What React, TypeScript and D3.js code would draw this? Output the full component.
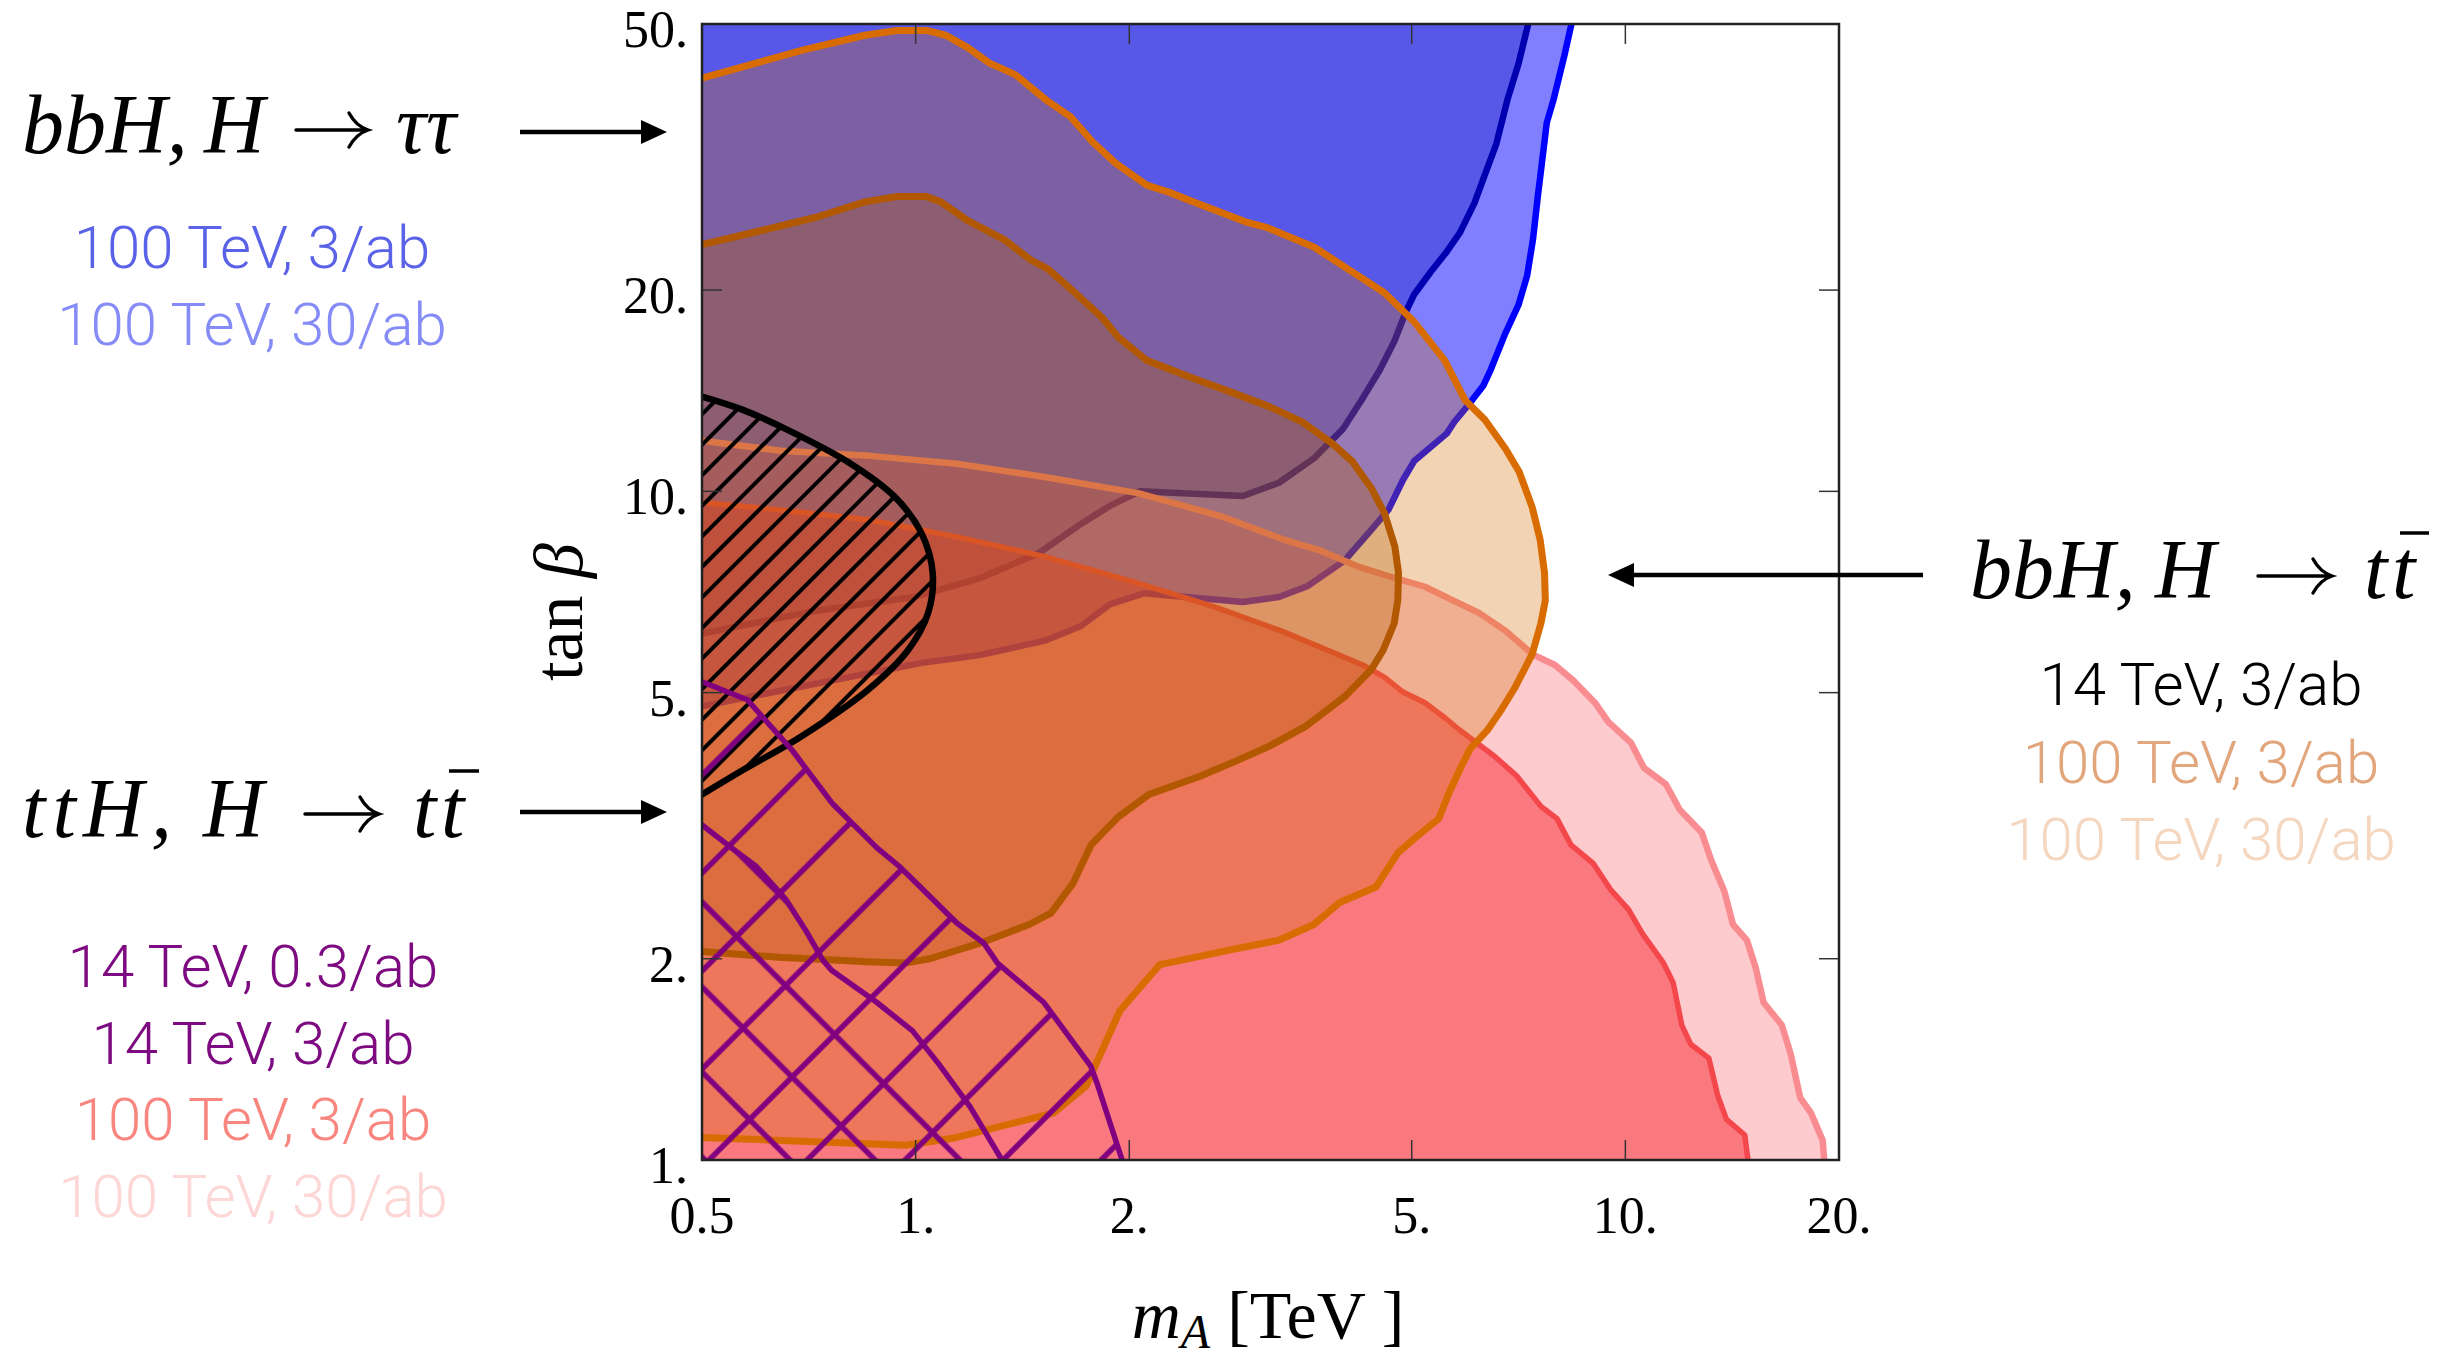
import React from "react";
import * as d3 from "d3";

type P = [number, number]; // [m_A in TeV, tan beta]

const xTickValues = [0.5, 1, 2, 5, 10, 20];
const xTickLabels = ["0.5", "1.", "2.", "5.", "10.", "20."];
const yTickValues = [1, 2, 5, 10, 20, 50];
const yTickLabels = ["1.", "2.", "5.", "10.", "20.", "50."];

// bbH, H -> tau tau : 100 TeV 30/ab (light blue), boundary from top edge to left edge
const tauTau100TeV30ab: P[] = [
  [8.45, 53], [8.42, 50.7], [8.2, 44.7], [7.92, 38.5], [7.75, 35.6], [7.62, 30.7], [7.53, 27.7],
  [7.41, 23.8], [7.27, 21.0], [7.07, 19.0], [6.77, 17.2], [6.46, 15.2], [6.31, 14.4], [6.02, 13.5],
  [5.74, 12.7], [5.6, 12.2], [5.04, 11.1], [4.86, 10.4], [4.64, 9.4], [4.37, 8.72], [4.02, 7.88],
  [3.57, 7.22], [3.25, 6.95], [2.89, 6.83], [2.1, 7.04], [1.88, 6.78], [1.71, 6.29], [1.52, 5.98],
  [1.23, 5.69], [1.02, 5.54], [0.803, 5.27], [0.5, 4.77],
];
// bbH, H -> tau tau : 100 TeV 3/ab
const tauTau100TeV3ab: P[] = [
  [7.35, 53], [7.32, 50.7], [7.07, 43.6], [6.82, 38.5], [6.58, 33.1], [6.35, 29.9], [6.13, 27.0],
  [5.85, 24.4], [5.58, 22.7], [5.32, 21.3], [5.04, 19.7], [4.9, 18.5], [4.73, 16.8], [4.51, 15.2],
  [4.25, 13.7], [4.0, 12.4], [3.64, 11.2], [3.25, 10.3], [2.89, 9.84], [2.07, 10.0], [1.88, 9.52],
  [1.71, 8.94], [1.49, 8.08], [1.23, 7.41], [0.994, 6.95], [0.713, 6.61], [0.5, 6.13],
];
// ttH, H -> tt : 100 TeV 30/ab (light pink)
const ttH100TeV30ab: P[] = [
  [0.5, 11.9], [0.646, 11.5], [0.862, 11.3], [1.143, 11.0], [1.526, 10.5], [2.057, 9.94], [2.701, 9.17],
  [3.311, 8.46], [3.7, 8.17], [4.217, 7.71], [4.691, 7.44], [5.219, 7.2], [5.697, 6.88], [6.218, 6.58],
  [6.788, 6.18], [7.391, 5.71], [7.957, 5.5], [8.44, 5.22], [9.06, 4.83], [9.46, 4.52], [10.18, 4.21],
  [10.62, 3.86], [11.4, 3.65], [11.93, 3.34], [12.81, 3.09], [13.21, 2.81], [13.79, 2.52], [14.18, 2.25],
  [14.84, 2.13], [15.26, 1.94], [15.66, 1.72], [16.62, 1.59], [17.1, 1.44], [17.63, 1.24], [18.27, 1.175],
  [18.97, 1.07], [19.11, 0.97],
];
// ttH, H -> tt : 100 TeV 3/ab (red)
const ttH100TeV3ab: P[] = [
  [0.5, 9.62], [0.646, 9.38], [0.862, 9.06], [1.143, 8.55], [1.526, 7.98], [2.057, 7.29], [2.657, 6.7],
  [3.28, 6.18], [3.8, 5.79], [4.267, 5.5], [4.58, 5.27], [4.861, 5.01], [5.219, 4.83], [5.59, 4.57],
  [5.834, 4.4], [6.552, 4.01], [7.034, 3.75], [7.604, 3.38], [8.01, 3.24], [8.38, 2.96], [9.0, 2.78],
  [9.55, 2.53], [10.1, 2.37], [10.57, 2.18], [11.32, 1.97], [11.68, 1.84], [12.01, 1.59], [12.36, 1.49],
  [13.11, 1.42], [13.49, 1.25], [13.88, 1.15], [14.73, 1.09], [14.94, 0.97],
];
// bbH, H -> tt : 100 TeV 30/ab (light orange)
const bbTT100TeV30ab: P[] = [
  [0.5, 41.5], [0.582, 43.4], [0.693, 45.7], [0.848, 48.1], [0.941, 48.9], [1.035, 48.9], [1.103, 48.1],
  [1.184, 46.1], [1.271, 43.7], [1.382, 42.0], [1.483, 39.5], [1.537, 38.3], [1.654, 36.3], [1.776, 33.3],
  [1.911, 31.0], [2.116, 28.7], [2.278, 28.0], [2.486, 27.0], [2.701, 26.1], [2.914, 25.3], [3.129, 24.8],
  [3.64, 23.2], [4.297, 20.7], [4.58, 19.8], [5.048, 17.9], [5.564, 15.7], [5.943, 13.7], [6.339, 12.8],
  [6.771, 11.6], [7.085, 10.7], [7.391, 9.47], [7.585, 8.46], [7.694, 7.55], [7.713, 6.87], [7.604, 6.35],
  [7.391, 5.71], [6.984, 5.08], [6.676, 4.7], [6.398, 4.4], [6.043, 4.12], [5.861, 3.86], [5.63, 3.52],
  [5.459, 3.24], [5.073, 3.04], [4.78, 2.88], [4.453, 2.56], [3.964, 2.43], [3.64, 2.25], [3.241, 2.13],
  [2.765, 2.06], [2.533, 2.02], [2.209, 1.96], [1.939, 1.67], [1.739, 1.29], [1.562, 1.175], [1.135, 1.079],
  [0.968, 1.052], [0.5, 1.081],
];
// bbH, H -> tt : 100 TeV 3/ab (orange)
const bbTT100TeV3ab: P[] = [
  [0.5, 23.4], [0.582, 24.3], [0.724, 25.7], [0.848, 27.1], [0.941, 27.6], [1.035, 27.6], [1.085, 27.1],
  [1.184, 25.4], [1.333, 23.8], [1.452, 22.2], [1.537, 21.5], [1.678, 19.8], [1.831, 18.2], [1.93, 17.0],
  [2.116, 15.7], [2.444, 14.8], [2.818, 14.0], [3.144, 13.4], [3.504, 12.7], [3.862, 11.8], [4.119, 11.1],
  [4.389, 10.1], [4.58, 9.26], [4.734, 8.27], [4.79, 7.55], [4.78, 6.88], [4.724, 6.35], [4.559, 5.79],
  [4.389, 5.42], [4.031, 4.94], [3.554, 4.46], [3.166, 4.17], [2.825, 3.95], [2.516, 3.75], [2.131, 3.52],
  [1.93, 3.26], [1.767, 2.96], [1.665, 2.59], [1.551, 2.34], [1.445, 2.25], [1.248, 2.12], [1.047, 2.0],
  [0.964, 1.97], [0.856, 1.98], [0.641, 2.01], [0.5, 2.05],
];
// bbH, H -> tt : 14 TeV 3/ab (black hatched)
const bbTT14TeV3ab: P[] = [
  [0.5, 13.86], [0.571, 13.24], [0.66, 12.36], [0.808, 11.02], [0.934, 9.82], [1.019, 8.66], [1.057, 7.54],
  [1.041, 6.57], [0.976, 5.79], [0.857, 5.05], [0.69, 4.3], [0.571, 3.83], [0.5, 3.52],
];
// ttH, H -> tt : 14 TeV 3/ab (purple, larger)
const ttH14TeV3ab: P[] = [
  [0.5, 5.19], [0.579, 4.88], [0.67, 4.1], [0.762, 3.42], [0.882, 2.93], [0.948, 2.75], [1.144, 2.26],
  [1.248, 2.11], [1.304, 1.97], [1.516, 1.72], [1.766, 1.38], [1.807, 1.29], [1.954, 1.0],
];
// ttH, H -> tt : 14 TeV 0.3/ab (purple, smaller)
const ttH14TeV03ab: P[] = [
  [0.5, 3.17], [0.555, 2.91], [0.596, 2.75], [0.655, 2.46], [0.699, 2.21], [0.74, 1.99], [0.762, 1.92],
  [0.818, 1.82], [0.882, 1.72], [0.99, 1.56], [1.079, 1.39], [1.194, 1.2], [1.323, 1.0],
];

const tauTauLegend = ["100 TeV, 3/ab", "100 TeV, 30/ab"];
const tauTauColors = ["#5a62e8", "#858cf8"];
const ttHLegend = ["14 TeV, 0.3/ab", "14 TeV, 3/ab", "100 TeV, 3/ab", "100 TeV, 30/ab"];
const ttHColors = ["#7d0a80", "#7d0a80", "#f8867e", "#fdd6d6"];
const bbTTLegend = ["14 TeV, 3/ab", "100 TeV, 3/ab", "100 TeV, 30/ab"];
const bbTTColors = ["#000000", "#e2a67c", "#f5d6bf"];

const EDGE = 0.47;
const TOPV = 53;
const BOTV = 0.95;

export default function App() {
  const L = 702, R = 1839, T = 24, B = 1160;
  const x = d3.scaleLog().domain([0.5, 20]).range([L, R]);
  const y = d3.scaleLog().domain([1, 50]).range([B, T]);
  const lin = d3.line<P>().x((d) => x(d[0])).y((d) => y(d[1]));
  const smooth = d3.line<P>().x((d) => x(d[0])).y((d) => y(d[1])).curve(d3.curveCatmullRom.alpha(0.5));
  const last = (a: P[]) => a[a.length - 1];

  const topRegion = (b: P[]) => lin([...b, [EDGE, last(b)[1]], [EDGE, TOPV]]) + "Z";
  const bottomRegion = (b: P[]) => lin([[EDGE, b[0][1]], ...b, [last(b)[0], BOTV], [EDGE, BOTV]]) + "Z";
  const leftRegion = (b: P[]) => lin([[EDGE, b[0][1]], ...b, [EDGE, last(b)[1]]]) + "Z";
  const ellipsePath =
    `M${x(EDGE)},${y(bbTT14TeV3ab[0][1])}L` +
    (smooth(bbTT14TeV3ab) as string).slice(1) +
    `L${x(EDGE)},${y(last(bbTT14TeV3ab)[1])}Z`;
  const purpleRegion = (b: P[]) => lin([[EDGE, b[0][1]], ...b, [last(b)[0], BOTV], [EDGE, BOTV]]) + "Z";

  const serif = "'Liberation Serif', 'DejaVu Serif', serif";
  const sans = "Roboto, 'Liberation Sans', Arial, sans-serif";

  // pointer arrows next to the plot
  const arrow = (x1: number, x2: number, yy: number, key: string) => {
    const dir = x2 > x1 ? 1 : -1;
    const hl = 26;
    return (
      <g key={key}>
        <line x1={x1} y1={yy} x2={x2 - dir * hl + dir * 2} y2={yy} stroke="#000" strokeWidth={4.5} />
        <polygon points={`${x2},${yy} ${x2 - dir * hl},${yy - 12} ${x2 - dir * hl},${yy + 12}`} fill="#000" />
      </g>
    );
  };
  // thin math-style arrow inside formulas
  const mathArrow = (x1: number, x2: number, yy: number, key: string) => (
    <g key={key} fill="none" stroke="#000" strokeWidth={3.4} strokeLinecap="round">
      <line x1={x1} y1={yy} x2={x2 - 1} y2={yy} />
      <path d={`M${x2 - 19},${yy - 17} Q${x2 - 12},${yy - 4} ${x2},${yy} Q${x2 - 12},${yy + 4} ${x2 - 19},${yy + 17}`} />
    </g>
  );

  const it = (s: string, xx: number, yy: number, key: string, len?: number) => (
    <text
      key={key}
      x={xx}
      y={yy}
      fontFamily={serif}
      fontStyle="italic"
      fontSize={84}
      fill="#000"
      {...(len ? { textLength: len, lengthAdjust: "spacing" } : {})}
    >
      {s}
    </text>
  );

  return (
    <svg
      width={2460}
      height={1358}
      viewBox="0 0 2460 1358"
      style={{ position: "absolute", left: 0, top: 0, display: "block", background: "#fff" }}
    >
      <defs>
        <clipPath id="plotClip">
          <rect x={L} y={T} width={R - L} height={B - T} />
        </clipPath>
        <clipPath id="ellClip">
          <path d={ellipsePath} />
        </clipPath>
        <clipPath id="purpAClip">
          <path d={purpleRegion(ttH14TeV3ab)} />
        </clipPath>
        <clipPath id="purpBClip">
          <path d={purpleRegion(ttH14TeV03ab)} />
        </clipPath>
        <pattern id="hatchBlack" patternUnits="userSpaceOnUse" width={21.6} height={20} x={0.9} patternTransform="rotate(45)">
          <line x1={10.8} y1={-5} x2={10.8} y2={25} stroke="#000" strokeWidth={4} />
        </pattern>
        <pattern id="hatchA" patternUnits="userSpaceOnUse" width={69.3} height={20} x={-29.7} patternTransform="rotate(45)">
          <line x1={34.65} y1={-5} x2={34.65} y2={25} stroke="#800080" strokeWidth={5.5} />
        </pattern>
        <pattern id="hatchB" patternUnits="userSpaceOnUse" width={60.1} height={20} x={8.85} patternTransform="rotate(-45)">
          <line x1={30.05} y1={-5} x2={30.05} y2={25} stroke="#800080" strokeWidth={5.5} />
        </pattern>
      </defs>

      <g clipPath="url(#plotClip)">
        <path d={topRegion(tauTau100TeV30ab)} fill="#0000ff" fillOpacity={0.5} stroke="#0000ff" strokeWidth={6.5} strokeLinejoin="round" />
        <path d={topRegion(tauTau100TeV3ab)} fill="#0000b4" fillOpacity={0.3} stroke="#0000b0" strokeWidth={6.5} strokeLinejoin="round" />
        <path d={bottomRegion(ttH100TeV30ab)} fill="rgb(250,80,90)" fillOpacity={0.3} stroke="#f98c90" strokeWidth={6.5} strokeLinejoin="round" />
        <path d={bottomRegion(ttH100TeV3ab)} fill="rgb(245,40,50)" fillOpacity={0.5} stroke="#f4474c" strokeWidth={5.5} strokeLinejoin="round" />
        <path d={leftRegion(bbTT100TeV30ab)} fill="rgb(211,112,5)" fillOpacity={0.3} stroke="#d96c00" strokeWidth={7} strokeLinejoin="round" />
        <path d={leftRegion(bbTT100TeV3ab)} fill="rgb(180,90,0)" fillOpacity={0.3} stroke="#b25800" strokeWidth={7} strokeLinejoin="round" />

        <rect x={L} y={T} width={R - L} height={B - T} fill="url(#hatchBlack)" clipPath="url(#ellClip)" />
        <path d={ellipsePath} fill="none" stroke="#000" strokeWidth={6.5} />

        <rect x={L} y={T} width={R - L} height={B - T} fill="url(#hatchA)" clipPath="url(#purpAClip)" />
        <rect x={L} y={T} width={R - L} height={B - T} fill="url(#hatchB)" clipPath="url(#purpBClip)" />
        <path d={purpleRegion(ttH14TeV3ab)} fill="none" stroke="#800080" strokeWidth={5.5} strokeLinejoin="round" />
        <path d={purpleRegion(ttH14TeV03ab)} fill="none" stroke="#800080" strokeWidth={5.5} strokeLinejoin="round" />
      </g>

      {/* ticks */}
      {xTickValues.map((t) => (
        <g key={"xt" + t}>
          <line x1={x(t)} x2={x(t)} y1={B} y2={B - 20} stroke="#333" strokeWidth={1.5} />
          <line x1={x(t)} x2={x(t)} y1={T} y2={T + 20} stroke="#333" strokeWidth={1.5} />
        </g>
      ))}
      {yTickValues.map((t) => (
        <g key={"yt" + t}>
          <line x1={L} x2={L + 20} y1={y(t)} y2={y(t)} stroke="#333" strokeWidth={1.5} />
          <line x1={R} x2={R - 20} y1={y(t)} y2={y(t)} stroke="#333" strokeWidth={1.5} />
        </g>
      ))}
      <rect x={L} y={T} width={R - L} height={B - T} fill="none" stroke="#222" strokeWidth={2.5} />

      {/* tick labels */}
      {xTickValues.map((t, i) => (
        <text key={"xl" + t} x={x(t)} y={1233} textAnchor="middle" fontFamily={serif} fontSize={52} fill="#000">
          {xTickLabels[i]}
        </text>
      ))}
      {yTickValues.map((t, i) => (
        <text key={"yl" + t} x={688} y={y(t) + 23} textAnchor="end" fontFamily={serif} fontSize={52} fill="#000">
          {yTickLabels[i]}
        </text>
      ))}

      {/* axis titles */}
      <text x={1268} y={1338} textAnchor="middle" fontFamily={serif} fontSize={68} fill="#000">
        <tspan fontStyle="italic">m</tspan>
        <tspan fontStyle="italic" fontSize={48} dy={10}>A</tspan>
        <tspan dy={-10}> [TeV ]</tspan>
      </text>
      <text transform="translate(582,612) rotate(-90)" textAnchor="middle" fontFamily={serif} fontSize={70} fill="#000">
        tan <tspan fontStyle="italic">β</tspan>
      </text>

      {/* left annotation: bbH, H -> tau tau */}
      {it("bbH,", 22, 153, "m1a")}
      {it("H", 204, 153, "m1b")}
      {mathArrow(296, 368, 130, "m1c")}
      {it("ττ", 396, 153, "m1d")}
      {arrow(520, 667, 132, "a1")}
      {tauTauLegend.map((s, i) => (
        <text key={"tl" + i} x={252} y={268 + i * 77} textAnchor="middle" fontFamily={sans} fontWeight={300} fontSize={60} fill={tauTauColors[i]}>
          {s}
        </text>
      ))}

      {/* left annotation: ttH, H -> t tbar */}
      {it("ttH,", 22, 837, "m2a", 150)}
      {it("H", 203, 837, "m2b")}
      {mathArrow(305, 379, 814, "m2c")}
      {it("t", 413, 837, "m2d")}
      {it("t", 441, 837, "m2e")}
      <line x1={449} x2={479} y1={771} y2={771} stroke="#000" strokeWidth={3.5} />
      {arrow(520, 667, 812, "a2")}
      {ttHLegend.map((s, i) => (
        <text key={"hl" + i} x={253} y={987 + i * 76.7} textAnchor="middle" fontFamily={sans} fontWeight={300} fontSize={60} fill={ttHColors[i]}>
          {s}
        </text>
      ))}

      {/* right annotation: bbH, H -> t tbar */}
      {it("bbH,", 1970, 598, "m3a")}
      {it("H", 2155, 598, "m3b")}
      {mathArrow(2258, 2332, 576, "m3c")}
      {it("t", 2364, 598, "m3d")}
      {it("t", 2392, 598, "m3e")}
      <line x1={2400} x2={2429} y1={533} y2={533} stroke="#000" strokeWidth={3.5} />
      {arrow(1923, 1608, 575, "a3")}
      {bbTTLegend.map((s, i) => (
        <text key={"bl" + i} x={2201} y={705 + i * 77.5} textAnchor="middle" fontFamily={sans} fontWeight={300} fontSize={60} fill={bbTTColors[i]}>
          {s}
        </text>
      ))}
    </svg>
  );
}
